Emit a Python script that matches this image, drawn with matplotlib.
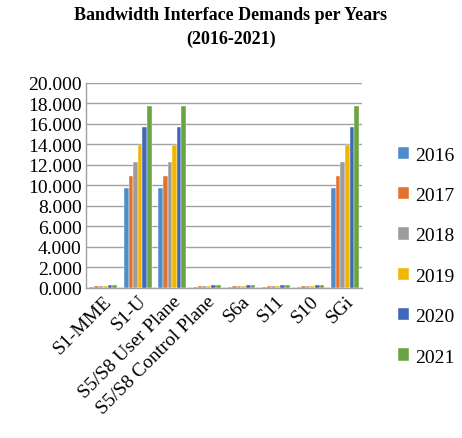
import matplotlib
matplotlib.use("Agg")
import matplotlib.pyplot as plt
import numpy as np

# interfaces and yearly demand values
interfaces = ["S1-MME", "S1-U", "S5/S8 User Plane", "S5/S8 Control Plane",
              "S6a", "S11", "S10", "SGi"]
years = ["2016", "2017", "2018", "2019", "2020", "2021"]
small = [0.12, 0.15, 0.18, 0.21, 0.25, 0.29]
big = [9.7, 10.9, 12.3, 13.9, 15.7, 17.7]
demand = {
    "S1-MME": small,
    "S1-U": big,
    "S5/S8 User Plane": big,
    "S5/S8 Control Plane": small,
    "S6a": small,
    "S11": small,
    "S10": small,
    "SGi": big,
}
colors = ["#4F8DC9", "#E2722E", "#9C9C9C", "#F2B600", "#3F68B8", "#69A443"]

plt.rcParams['font.family'] = ['Liberation Serif', 'DejaVu Serif']

fig = plt.figure(figsize=(4.62, 4.39), dpi=100)
ax = fig.add_axes([0.186, 0.342, 0.598, 0.467])

x = np.arange(len(interfaces))
w = 0.8 / len(years)
for i, yr in enumerate(years):
    vals = [demand[k][i] for k in interfaces]
    ax.bar(x - 0.4 + w * (i + 0.5), vals, w, color=colors[i], label=yr,
           edgecolor="white", linewidth=0.3, zorder=3)

ax.set_ylim(0, 20)
ax.set_xlim(-0.5, len(interfaces) - 0.5)
ax.set_yticks(np.arange(0, 21, 2))
ax.set_yticklabels(["%.3f" % v for v in np.arange(0, 21, 2)], fontsize=14)
ax.set_xticks(x)
ax.set_xticklabels(interfaces, rotation=45, ha="right", rotation_mode="anchor",
                   fontsize=14)
ax.tick_params(length=0, pad=3)
ax.grid(axis="y", color="#A0A0A0", linewidth=1, zorder=0)
for s in ["top", "right"]:
    ax.spines[s].set_visible(False)
for s in ["left", "bottom"]:
    ax.spines[s].set_color("#A0A0A0")
    ax.spines[s].set_linewidth(1)

fig.suptitle("Bandwidth Interface Demands per Years\n(2016-2021)",
             fontsize=13, fontweight="bold", y=0.985, linespacing=1.5)

ax.legend(loc="center left", bbox_to_anchor=(1.065, 0.155), frameon=False,
          fontsize=14, handlelength=0.6, handleheight=0.6, handletextpad=0.3,
          labelspacing=1.2)

fig.savefig("out.png", dpi=100)
